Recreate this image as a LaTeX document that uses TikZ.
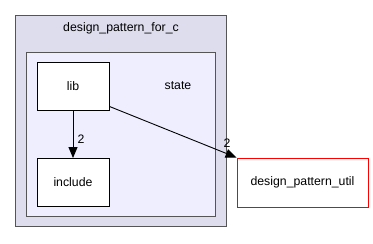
\documentclass[tikz,border=0pt]{standalone}
\usepackage{fontspec}
\setmainfont{Liberation Sans}
\usetikzlibrary{arrows.meta}
\definecolor{outerfill}{HTML}{DDDDEE}
\definecolor{innerfill}{HTML}{EEEEFF}
\definecolor{frame}{HTML}{555555}
\begin{document}
\begin{tikzpicture}[x=1pt,y=-1pt,
  every node/.style={font=\fontsize{12.3}{14}\selectfont},
  cluster/.style={draw=frame,line width=1.6pt},
  dirbox/.style={draw=black,fill=white,line width=0.9pt,minimum width=72pt,minimum height=48pt,inner sep=0pt},
  extbox/.style={draw=red,fill=white,line width=0.9pt,minimum width=131pt,minimum height=49pt,inner sep=0pt},
  dep/.style={draw=black,line width=0.9pt,-{Triangle[length=11pt,width=9pt]}},
  cnt/.style={inner sep=0pt}]
\useasboundingbox (0,0) rectangle (373,244);
% directory clusters
\filldraw[cluster,fill=outerfill] (15.5,15.5) rectangle (226.5,226.5);
\filldraw[cluster,fill=innerfill] (26.5,52.5) rectangle (215.5,216.5);
\node (top) at (121,28) {design\_pattern\_for\_c};
\node (state) at (178,86) {state};
% directories
\node[dirbox] (lib) at (73,86) {lib};
\node[dirbox] (include) at (73,182.5) {include};
\node[extbox] (util) at (302.5,182.5) {design\_pattern\_util};
% dependencies
\draw[dep] (lib) -- (include);
\node[cnt] (n1) at (81,139) {2};
\draw[dep] (lib.south east) ++(0,-4) -- (util.north west);
\node[cnt] (n2) at (227,143) {2};
\end{tikzpicture}
\end{document}
